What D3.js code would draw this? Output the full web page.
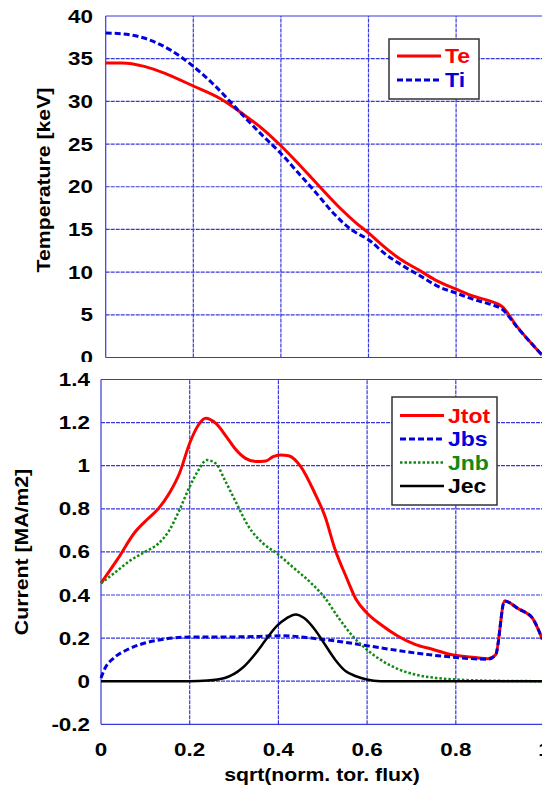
<!DOCTYPE html>
<html>
<head>
<meta charset="utf-8">
<title>profiles</title>
<script src="https://cdn.jsdelivr.net/npm/d3@7"></script>
<style>
    body { margin: 0; background: #fff; }
    text { font-family: "Liberation Sans", Arial, sans-serif; font-weight: bold; }
</style>
</head>
<body>
<div id="chart"></div>
<script>
    // temperature profiles
    var teX = [0, 0.037, 0.088, 0.139, 0.2, 0.264, 0.311, 0.36, 0.4, 0.44, 0.485, 0.533, 0.572, 0.6, 0.626, 0.673, 0.713, 0.752, 0.8, 0.838, 0.878, 0.904, 0.941, 0.996];
    var teY = [34.5, 34.5, 34.1, 33.2, 31.8, 30.25, 28.6, 26.7, 24.8, 22.7, 20.2, 17.6, 15.75, 14.6, 13.4, 11.5, 10.3, 9.1, 8.0, 7.2, 6.6, 6.0, 3.5, 0.3];
    var tiX = [0, 0.04, 0.1, 0.15, 0.2, 0.25, 0.28, 0.32, 0.36, 0.4, 0.44, 0.48, 0.52, 0.56, 0.6, 0.64, 0.68, 0.72, 0.76, 0.8, 0.84, 0.88, 0.904, 0.94, 0.996];
    var tiY = [38.0, 37.9, 37.2, 35.95, 34.1, 31.8, 30.2, 28.0, 25.9, 23.9, 21.6, 19.3, 16.9, 15.0, 13.8, 12.05, 10.7, 9.5, 8.3, 7.55, 6.8, 6.2, 5.7, 3.5, 0.3];

    // current profiles
    var jtotX = [0, 0.037, 0.076, 0.107, 0.13, 0.154, 0.177, 0.201, 0.22, 0.236, 0.259, 0.283, 0.302, 0.326, 0.349, 0.372, 0.388, 0.404, 0.423, 0.45, 0.482, 0.505, 0.528, 0.552, 0.575, 0.599, 0.63, 0.669, 0.708, 0.747, 0.786, 0.825, 0.872, 0.89, 0.91, 0.942, 0.972, 0.995];
    var jtotY = [0.455, 0.565, 0.69, 0.756, 0.802, 0.872, 0.965, 1.11, 1.19, 1.22, 1.196, 1.134, 1.08, 1.034, 1.019, 1.022, 1.042, 1.05, 1.046, 0.997, 0.873, 0.765, 0.61, 0.488, 0.38, 0.318, 0.264, 0.21, 0.171, 0.148, 0.125, 0.114, 0.104, 0.123, 0.372, 0.335, 0.295, 0.195];
    var jbsX = [0, 0.009, 0.029, 0.06, 0.099, 0.146, 0.2, 0.279, 0.357, 0.411, 0.474, 0.552, 0.63, 0.708, 0.786, 0.872, 0.89, 0.91, 0.942, 0.972, 0.995];
    var jbsY = [0.015, 0.06, 0.108, 0.147, 0.177, 0.196, 0.205, 0.205, 0.208, 0.211, 0.2, 0.18, 0.155, 0.131, 0.113, 0.102, 0.123, 0.372, 0.335, 0.295, 0.195];
    var jnbX = [0, 0.029, 0.068, 0.099, 0.13, 0.154, 0.177, 0.2, 0.22, 0.238, 0.259, 0.279, 0.302, 0.333, 0.365, 0.396, 0.435, 0.474, 0.505, 0.536, 0.568, 0.599, 0.63, 0.669, 0.708, 0.755, 0.8, 0.86, 1];
    var jnbY = [0.455, 0.5, 0.563, 0.6, 0.64, 0.7, 0.795, 0.903, 0.98, 1.026, 1.01, 0.934, 0.84, 0.717, 0.64, 0.594, 0.525, 0.455, 0.386, 0.293, 0.208, 0.147, 0.1, 0.057, 0.031, 0.015, 0.008, 0.003, 0];
    var jecX = [0, 0.2, 0.24, 0.279, 0.318, 0.349, 0.372, 0.396, 0.419, 0.439, 0.458, 0.482, 0.505, 0.528, 0.552, 0.575, 0.599, 0.63, 1];
    var jecY = [0, 0, 0.003, 0.015, 0.06, 0.13, 0.193, 0.255, 0.293, 0.31, 0.293, 0.24, 0.17, 0.1, 0.046, 0.023, 0.008, 0, 0];

    var xTicks = [0, 0.2, 0.4, 0.6, 0.8, 1];
    var tempTicks = [0, 5, 10, 15, 20, 25, 30, 35, 40];
    var curTicks = [-0.2, 0, 0.2, 0.4, 0.6, 0.8, 1, 1.2, 1.4];

    var svg = d3.select("#chart").append("svg")
        .attr("width", 542).attr("height", 785);

    var gridColor = "#3838e0";
    var stretch = 1.18; // the source font is wide

    function zip(xs, ys) {
        return xs.map(function(v, i) { return [v, ys[i]]; });
    }

    // text put at (x,y), widened along its own direction
    function label(g, x, y, str, size, anchor, rot) {
        return g.append("text")
            .attr("transform", "translate(" + x + "," + y + ")" + (rot ? " rotate(" + rot + ")" : "") + " scale(" + stretch + ",1)")
            .attr("text-anchor", anchor).attr("font-size", size)
            .text(str);
    }

    function panel(opt) {
        var x = d3.scaleLinear().domain([0, 1]).range(opt.xr);
        var y = d3.scaleLinear().domain(opt.yd).range(opt.yr);
        var g = svg.append("g");
        if (opt.clip) {
            svg.append("clipPath").attr("id", opt.id + "clip")
                .append("rect").attr("x", 0).attr("y", 0).attr("width", 542).attr("height", opt.clip);
            g.attr("clip-path", "url(#" + opt.id + "clip)");
        }
        // grid
        g.selectAll(".vg").data(xTicks).enter().append("line")
            .attr("x1", x).attr("x2", x)
            .attr("y1", opt.yr[0]).attr("y2", opt.yr[1])
            .attr("stroke", gridColor).attr("stroke-width", 1.2)
            .attr("stroke-dasharray", function(d) { return d == 0 ? null : "4,1"; });
        g.selectAll(".hg").data(opt.ticks).enter().append("line")
            .attr("x1", opt.xr[0]).attr("x2", opt.xr[1])
            .attr("y1", y).attr("y2", y)
            .attr("stroke", gridColor).attr("stroke-width", 1.2)
            .attr("stroke-dasharray", function(d, i) { return (i == 0 || i == opt.ticks.length - 1) ? null : "4,1"; });
        // tick labels
        opt.ticks.forEach(function(d) {
            label(g, opt.labelX, y(d) + 6.5, d, 19, "end");
        });
        if (opt.xlabels) {
            xTicks.forEach(function(d) {
                label(g, x(d), opt.yr[0] + 32, d, 19, "middle");
            });
        }
        // y title
        label(g, opt.titleX, opt.titleY, opt.title, 18, "middle", -90);

        var line = d3.line().x(function(d) { return x(d[0]); }).y(function(d) { return y(d[1]); })
            .curve(d3.curveMonotoneX);
        opt.series.forEach(function(s) {
            g.append("path").datum(zip(s.xs, s.ys))
                .attr("d", line).attr("fill", "none")
                .attr("stroke", s.color).attr("stroke-width", s.width)
                .attr("stroke-dasharray", s.dash);
        });

        // legend
        var L = opt.legend;
        g.append("rect").attr("x", L.x).attr("y", L.y).attr("width", L.w).attr("height", L.h)
            .attr("fill", "#fff").attr("stroke", "#333").attr("stroke-width", 1.5);
        opt.series.forEach(function(s, i) {
            var yy = L.y + L.first + i * L.step;
            g.append("line").attr("x1", L.x + 8).attr("x2", L.x + 52)
                .attr("y1", yy).attr("y2", yy)
                .attr("stroke", s.color).attr("stroke-width", s.width)
                .attr("stroke-dasharray", s.dash);
            label(g, L.x + 56, yy + 7, s.name, 19.5, "start").attr("fill", s.color);
        });
        return { x: x, y: y };
    }

    panel({
        id: "temp", xr: [105.7, 543.7], yd: [0, 40], yr: [357.5, 16], ticks: tempTicks,
        labelX: 93, titleX: 50, titleY: 180, title: "Temperature [keV]", clip: 362,
        series: [
            { name: "Te", xs: teX, ys: teY, color: "#ff0000", width: 3, dash: null },
            { name: "Ti", xs: tiX, ys: tiY, color: "#0000dd", width: 3, dash: "6,3" }
        ],
        legend: { x: 389, y: 39, w: 90, h: 60, first: 17, step: 24 }
    });

    panel({
        id: "cur", xr: [101, 544.5], yd: [-0.2, 1.4], yr: [724.3, 379.5], ticks: curTicks,
        labelX: 90, titleX: 28, titleY: 552, title: "Current [MA/m2]", xlabels: true,
        series: [
            { name: "Jtot", xs: jtotX, ys: jtotY, color: "#ff0000", width: 3, dash: null },
            { name: "Jbs", xs: jbsX, ys: jbsY, color: "#0000dd", width: 3, dash: "6,3" },
            { name: "Jnb", xs: jnbX, ys: jnbY, color: "#108a10", width: 2.5, dash: "2.5,2" },
            { name: "Jec", xs: jecX, ys: jecY, color: "#000000", width: 2.5, dash: null }
        ],
        legend: { x: 392, y: 397, w: 105, h: 108, first: 18.5, step: 23.5 }
    });

    label(svg, 322, 781, "sqrt(norm. tor. flux)", 18, "middle");
</script>
</body>
</html>
